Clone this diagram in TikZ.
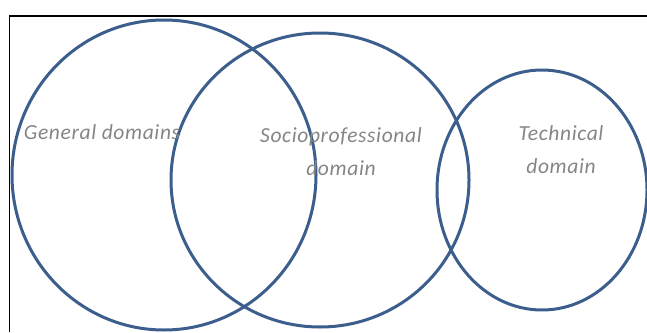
\documentclass[tikz,border=0pt]{standalone}
\usepackage{fontspec}
\setmainfont{Carlito}
\begin{document}
\begin{tikzpicture}[x=1pt,y=-1pt,
  ring/.style={draw=ringblue,line width=3pt},
  lbl/.style={text=lblgray,font=\fontsize{21.5}{33}\selectfont\itshape\addfontfeatures{LetterSpace=3},align=center,inner sep=0pt}]
\definecolor{ringblue}{HTML}{3B5E8C}
\definecolor{lblgray}{HTML}{858585}
\useasboundingbox (0,0) rectangle (647,332);
\draw[line width=1.6pt] (9.5,332) -- (9.5,16) -- (647,16);
\begin{scope}
\clip (0,0) rectangle (647,332);
\draw[ring] (164,175) ellipse [x radius=152, y radius=155];
\draw[ring] (320,180) ellipse [x radius=149, y radius=147];
\draw[ring] (542,190) ellipse [x radius=105, y radius=120];
\end{scope}
\node[lbl] (gen) at (102,132) {General domains};
\node[lbl] (soc) at (341,152) {Socioprofessional\\domain};
\node[lbl] (tec) at (561,150) {Technical\\domain};
\end{tikzpicture}
\end{document}
